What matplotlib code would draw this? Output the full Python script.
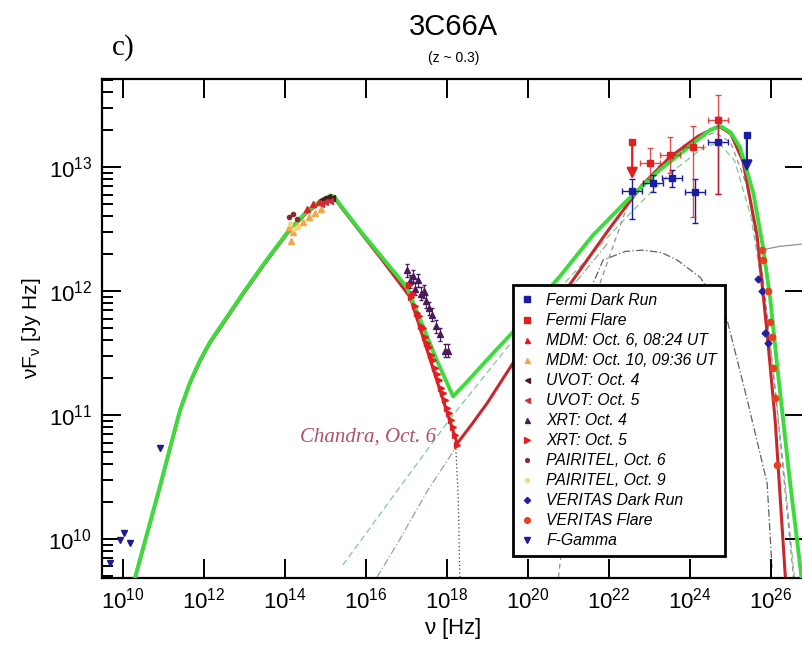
import numpy as np
import matplotlib
matplotlib.use("Agg")
import matplotlib.pyplot as plt
from matplotlib.ticker import LogLocator, NullFormatter

plt.rcParams['font.family'] = ['Liberation Sans', 'DejaVu Sans']

# --- data (log10 nu [Hz], log10 nuFnu [Jy Hz]) ---
# model curves
green_lx = [10.15, 10.30, 10.60, 10.91, 11.15, 11.41, 11.65, 11.90, 12.15, 12.40, 13.0, 13.5, 14.05, 14.5,
            14.85, 15.0, 15.12, 15.22, 15.4, 15.85, 16.4, 17.01, 17.4, 17.75, 18.15, 18.5, 19.0, 19.63, 20.2,
            20.79, 21.6, 22.44, 23.26, 24.07, 24.5, 24.75, 25.0, 25.23, 25.56, 25.80, 25.98, 26.15, 26.45, 26.8]
green_ly = [9.51, 9.69, 10.05, 10.42, 10.72, 11.04, 11.26, 11.44, 11.59, 11.71, 12.0, 12.23, 12.47, 12.63,
            12.72, 12.75, 12.77, 12.76, 12.68, 12.49, 12.27, 12.03, 11.72, 11.44, 11.15, 11.27, 11.45, 11.67, 11.90,
            12.12, 12.45, 12.73, 12.98, 13.19, 13.30, 13.33, 13.28, 13.16, 12.79, 12.35, 11.93, 11.39, 10.50, 9.55]

red_lx = [10.15, 10.30, 10.60, 10.91, 11.15, 11.41, 11.65, 11.90, 12.15, 12.40, 13.0, 13.5, 14.05, 14.5,
          14.85, 15.0, 15.12, 15.22, 15.4, 15.85, 16.4, 17.09, 17.6, 18.25, 18.6, 19.0, 19.63, 20.3, 21.11,
          22.0, 22.8, 23.5, 24.2, 24.7, 25.0, 25.3, 25.65, 25.9, 26.1, 26.35, 26.45]
red_ly = [9.50, 9.68, 10.04, 10.41, 10.71, 11.03, 11.25, 11.43, 11.58, 11.70, 11.99, 12.22, 12.46, 12.62,
          12.71, 12.74, 12.76, 12.75, 12.67, 12.48, 12.25, 11.95, 11.43, 10.77, 10.92, 11.10, 11.42, 11.72, 12.09,
          12.50, 12.85, 13.08, 13.25, 13.33, 13.27, 13.05, 12.45, 11.66, 10.95, 9.69, 9.40]

# model components (thin lines)
ssc1_lx = [15.43, 16.84, 18.1, 19.5, 21.0, 22.5, 23.5, 24.3, 24.7, 25.1, 25.5, 25.9, 26.3, 26.6]
ssc1_ly = [9.79, 10.42, 10.98, 11.55, 12.10, 12.62, 12.95, 13.15, 13.20, 13.05, 12.60, 11.80, 10.60, 9.60]
ssc2_lx = [16.27, 16.84, 17.5, 18.3, 19.3, 20.5, 22.0]
ssc2_ly = [9.69, 10.00, 10.38, 10.78, 11.25, 11.80, 12.40]
ec_lx = [20.75, 21.2, 21.6, 22.44, 23.2, 24.0, 24.6, 25.0, 25.4, 25.8, 26.1, 26.4, 26.55]
ec_ly = [9.69, 11.0, 11.9, 12.68, 13.0, 13.2, 13.28, 13.2, 12.85, 12.1, 11.2, 10.2, 9.69]
hump_lx = [20.5, 21.2, 21.85, 22.4, 22.84, 23.3, 23.68, 24.25, 24.91, 25.41, 25.9, 26.02]
hump_ly = [10.60, 11.75, 12.25, 12.32, 12.33, 12.31, 12.25, 12.11, 11.77, 11.12, 10.45, 9.77]
sync_lx = [18.2, 18.28, 18.32]
sync_ly = [10.85, 10.30, 9.60]
intr_lx = [25.75, 26.2, 26.8]
intr_ly = [12.33, 12.36, 12.38]

# Fermi
fdark_lx = [22.57, 23.09, 23.56, 24.12, 24.69]
fdark_ly = [12.81, 12.87, 12.91, 12.80, 13.20]
fdark_lo = [12.58, 12.80, 12.84, 12.55, 12.78]
fdark_hi = [12.90, 12.94, 12.98, 12.90, 13.40]
fdark_ul_lx = [25.4]
fdark_ul_ly = [13.26]
fflare_lx = [23.01, 23.51, 24.07, 24.69]
fflare_ly = [13.03, 13.10, 13.16, 13.38]
fflare_lo = [12.90, 12.95, 12.60, 12.78]
fflare_hi = [13.15, 13.24, 13.33, 13.58]
fflare_ul_lx = [22.57]
fflare_ul_ly = [13.20]
fermi_bin = 0.25  # half width of the energy bins, in decades

# optical / IR
mdm6_lx = [14.55, 14.7, 14.85, 15.0, 15.1]
mdm6_ly = [12.66, 12.70, 12.72, 12.74, 12.75]
mdm10_lx = [14.1, 14.2, 14.3, 14.45, 14.6, 14.75, 14.9, 14.15]
mdm10_ly = [12.52, 12.48, 12.53, 12.56, 12.60, 12.63, 12.66, 12.40]
uvot4_lx = [14.95, 15.05, 15.15]
uvot4_ly = [12.74, 12.76, 12.75]
uvot5_lx = [14.9, 15.0, 15.12]
uvot5_ly = [12.70, 12.72, 12.73]
pt6_lx = [14.1, 14.2, 14.3]
pt6_ly = [12.60, 12.62, 12.58]
pt9_lx = [14.12, 14.22, 14.32]
pt9_ly = [12.54, 12.50, 12.52]

# X-ray
xrt4_lx = [17.01, 17.08, 17.15, 17.22, 17.28, 17.35, 17.42, 17.48, 17.55, 17.63, 17.72, 17.83, 17.95, 18.02]
xrt4_ly = [12.17, 12.08, 12.12, 12.02, 12.09, 11.98, 12.00, 11.92, 11.86, 11.81, 11.72, 11.65, 11.52, 11.52]
xrt5_lx = [17.05, 17.1, 17.15, 17.2, 17.25, 17.3, 17.35, 17.4, 17.45, 17.5, 17.55, 17.6, 17.65, 17.7,
           17.75, 17.8, 17.85, 17.9, 17.95, 18.0, 18.05, 18.1, 18.15, 18.2, 18.25]
xrt5_ly = [12.05, 11.95, 11.98, 11.88, 11.82, 11.80, 11.72, 11.70, 11.63, 11.58, 11.55, 11.48, 11.44, 11.38,
           11.33, 11.28, 11.22, 11.18, 11.12, 11.06, 11.02, 10.96, 10.90, 10.84, 10.76]

# VERITAS
vdark_lx = [25.68, 25.78, 25.85, 25.93]
vdark_ly = [12.10, 12.00, 11.66, 11.58]
vflare_lx = [25.78, 25.80, 25.93, 25.98, 26.02, 26.05, 26.10, 26.15]
vflare_ly = [12.33, 12.25, 12.00, 11.75, 11.63, 11.38, 11.14, 10.60]

# F-Gamma radio
fg_lx = [9.68, 9.93, 10.02, 10.17, 10.91]
fg_ly = [9.81, 9.99, 10.05, 9.97, 10.73]

# x/y ticks
xtick_exp = [10, 12, 14, 16, 18, 20, 22, 24, 26]
ytick_exp = [10, 11, 12, 13]


def p(v):
    return 10.0 ** np.array(v)


def xbin(lx):
    x = p(lx)
    return [x - x * 10 ** -fermi_bin, x * 10 ** fermi_bin - x]


fig = plt.figure(figsize=(8.02, 6.48), dpi=100)
ax = fig.add_axes([0.127, 0.108, 0.875, 0.770])
ax.set_xscale('log')
ax.set_yscale('log')

# components
ax.plot(p(ssc1_lx), p(ssc1_ly), color='#7fc98f', lw=0.9, ls=(0, (5, 3)), zorder=1)
ax.plot(p(ssc2_lx), p(ssc2_ly), color='#8fa88f', lw=0.9, ls=(0, (6, 2, 1, 2)), zorder=1)
ax.plot(p(ec_lx), p(ec_ly), color='#909090', lw=0.9, ls=(0, (4, 3)), zorder=1)
ax.plot(p(hump_lx), p(hump_ly), color='#606060', lw=0.9, ls=(0, (6, 2, 1, 2)), zorder=1)
ax.plot(p(sync_lx), p(sync_ly), color='#404040', lw=0.9, ls=(0, (1, 2)), zorder=1)
ax.plot(p(intr_lx), p(intr_ly), color='#909090', lw=0.9, zorder=1)

# full models
ax.plot(p(red_lx), p(red_ly), color='#c8282d', lw=2.2, zorder=2)
ax.plot(p(green_lx), p(green_ly), color='#3ddc3d', lw=2.8, zorder=3)

# Fermi error bars (no legend entry, markers are drawn below)
ax.errorbar(p(fdark_lx), p(fdark_ly), xerr=xbin(fdark_lx),
            yerr=[p(fdark_ly) - p(fdark_lo), p(fdark_hi) - p(fdark_ly)],
            fmt='none', ecolor='#1c1ca0', elinewidth=1, capsize=2, zorder=5)
ax.errorbar(p(fflare_lx), p(fflare_ly), xerr=xbin(fflare_lx),
            yerr=[p(fflare_ly) - p(fflare_lo), p(fflare_hi) - p(fflare_ly)],
            fmt='none', ecolor='#e02020', elinewidth=1, capsize=2, alpha=0.8, zorder=5)
for lx, ly, c in [(fdark_ul_lx[0], fdark_ul_ly[0], '#1c1ca0'), (fflare_ul_lx[0], fflare_ul_ly[0], '#e02020')]:
    ax.annotate('', xy=(10 ** lx, 10 ** (ly - 0.32)), xytext=(10 ** lx, 10 ** ly),
                arrowprops=dict(arrowstyle='-|>', color=c, lw=1.6, mutation_scale=16), zorder=5)
ax.errorbar(p(xrt4_lx), p(xrt4_ly), yerr=[p(xrt4_ly) * 0.12, p(xrt4_ly) * 0.12], fmt='none',
            ecolor='#4a1a5a', elinewidth=0.8, capsize=1.5, zorder=4)

ms = 5
h = []
h += ax.plot(p(fdark_lx + fdark_ul_lx), p(fdark_ly + fdark_ul_ly), 's', color='#1c1ca0', ms=ms,
             label='Fermi Dark Run', zorder=6)
h += ax.plot(p(fflare_lx + fflare_ul_lx), p(fflare_ly + fflare_ul_ly), 's', color='#e02020', ms=ms,
             label='Fermi Flare', zorder=6)
h += ax.plot(p(mdm6_lx), p(mdm6_ly), '^', color='#e02020', ms=4, ls='none', label='MDM: Oct. 6, 08:24 UT', zorder=4)
h += ax.plot(p(mdm10_lx), p(mdm10_ly), '^', color='#f0a848', ms=4, ls='none', label='MDM: Oct. 10, 09:36 UT', zorder=4)
h += ax.plot(p(uvot4_lx), p(uvot4_ly), '<', color='#4a1a20', ms=4, ls='none', label='UVOT: Oct. 4', zorder=4)
h += ax.plot(p(uvot5_lx), p(uvot5_ly), '<', color='#d03038', ms=4, ls='none', label='UVOT: Oct. 5', zorder=4)
h += ax.plot(p(xrt4_lx), p(xrt4_ly), '^', color='#4a1a5a', ms=4, ls='none', label='XRT: Oct. 4', zorder=4)
h += ax.plot(p(xrt5_lx), p(xrt5_ly), '>', color='#e02020', ms=5, ls='none', label='XRT: Oct. 5', zorder=4)
h += ax.plot(p(pt6_lx), p(pt6_ly), 'o', color='#8a2a2a', ms=3, ls='none', label='PAIRITEL, Oct. 6', zorder=4)
h += ax.plot(p(pt9_lx), p(pt9_ly), 'o', color='#f2d878', ms=3, ls='none', label='PAIRITEL, Oct. 9', zorder=4)
h += ax.plot(p(vdark_lx), p(vdark_ly), 'D', color='#2020a0', ms=3.5, ls='none', label='VERITAS Dark Run', zorder=5)
h += ax.plot(p(vflare_lx), p(vflare_ly), 'o', color='#e8401e', ms=4.5, ls='none', label='VERITAS Flare', zorder=5)
h += ax.plot(p(fg_lx), p(fg_ly), 'v', color='#1c1c90', ms=5, ls='none', label='F-Gamma', zorder=5)

ax.text(10 ** 14.37, 10 ** 10.82, 'Chandra, Oct. 6', family=['Liberation Serif', 'DejaVu Serif'],
        style='italic', fontsize=15, color='#b0506a', va='center', ha='left')

ax.set_xlim(10 ** 9.481, 10 ** 26.80)
ax.set_ylim(10 ** 9.685, 10 ** 13.71)

ax.set_xticks([10.0 ** e for e in xtick_exp])
ax.set_xticklabels([r'$\mathdefault{10^{%d}}$' % e for e in xtick_exp])
ax.xaxis.set_minor_locator(plt.NullLocator())
ax.set_yticks([10.0 ** e for e in ytick_exp])
ax.set_yticklabels([r'$\mathdefault{10^{%d}}$' % e for e in ytick_exp])
ax.yaxis.set_minor_locator(LogLocator(base=10, subs=np.arange(2, 10)))
ax.yaxis.set_minor_formatter(NullFormatter())

ax.tick_params(which='both', direction='in', top=True, right=True, width=1.4, labelsize=16)
ax.tick_params(which='major', length=14, pad=7)
ax.tick_params(which='minor', length=8, right=False)
for s in ax.spines.values():
    s.set_linewidth(1.6)

ax.set_xlabel(r'$\mathdefault{\nu}$ [Hz]', fontsize=16, labelpad=2)
ax.set_ylabel(r'$\mathdefault{\nu F_\nu}$ [Jy Hz]', fontsize=15, labelpad=4)

leg = ax.legend(handles=h, loc='upper left', bbox_to_anchor=(0.586, 0.587), borderaxespad=0, frameon=True,
                fancybox=False, edgecolor='black', framealpha=1, handlelength=0.8, handletextpad=0.8,
                labelspacing=0.32, borderpad=0.5, markerscale=0.9,
                prop={'family': 'Liberation Sans', 'style': 'italic', 'size': 11.3})
leg.get_frame().set_linewidth(2)
leg.set_zorder(10)

fig.text(0.566, 0.958, '3C66A', ha='center', va='center', fontsize=21)
fig.text(0.566, 0.910, '(z ~ 0.3)', ha='center', va='center', fontsize=10)
fig.text(0.154, 0.926, 'c)', ha='center', va='center', fontsize=21, family=['Liberation Serif', 'DejaVu Serif'])

fig.savefig('out.png', dpi=100)
